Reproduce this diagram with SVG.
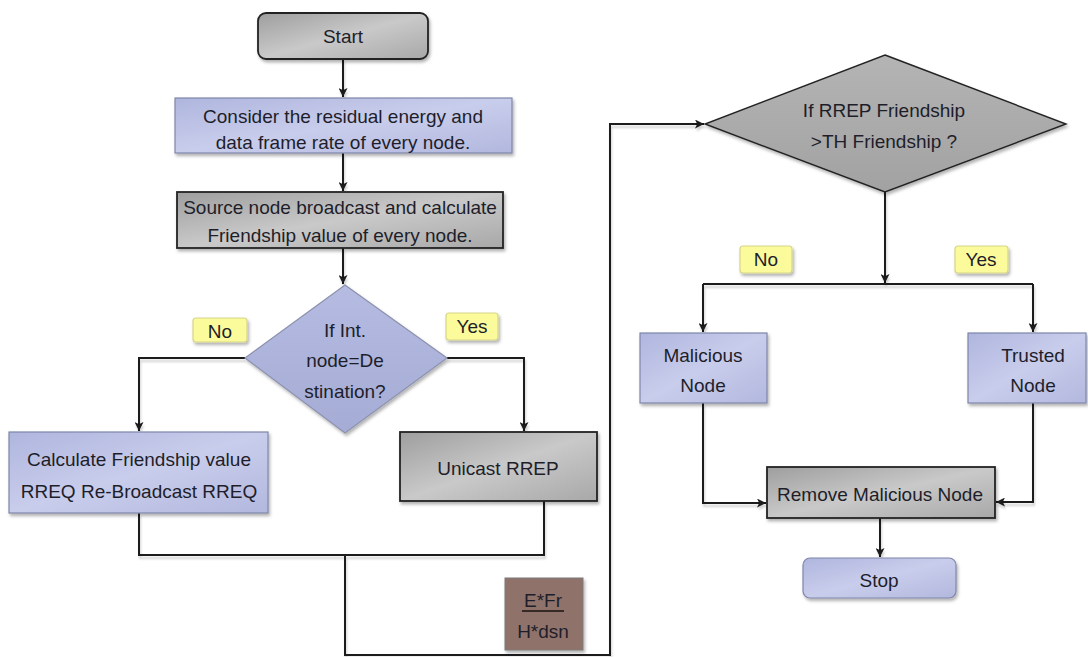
<svg xmlns="http://www.w3.org/2000/svg" width="1088" height="657" viewBox="0 0 1088 657">
<defs>
<linearGradient id="gGray" x1="0" y1="0" x2="1" y2="1">
<stop offset="0" stop-color="#9e9e9e"/><stop offset="0.5" stop-color="#c9c9c9"/><stop offset="1" stop-color="#a8a8a8"/>
</linearGradient>
<linearGradient id="gBlue" x1="0" y1="0" x2="1" y2="1">
<stop offset="0" stop-color="#afb6de"/><stop offset="0.5" stop-color="#c9cdec"/><stop offset="1" stop-color="#b2b8de"/>
</linearGradient>
<linearGradient id="gDia1" x1="0" y1="0" x2="0" y2="1">
<stop offset="0" stop-color="#b5bbe1"/><stop offset="1" stop-color="#a5acd5"/>
</linearGradient>
<linearGradient id="gDia2" x1="0" y1="0" x2="0" y2="1">
<stop offset="0" stop-color="#b4b4b4"/><stop offset="1" stop-color="#a2a2a2"/>
</linearGradient>
<filter id="sh" x="-10%" y="-10%" width="130%" height="140%">
<feDropShadow dx="1.5" dy="2.5" stdDeviation="1.5" flood-color="#000" flood-opacity="0.3"/>
</filter>
<filter id="lsh" filterUnits="userSpaceOnUse" x="0" y="0" width="1088" height="657">
<feDropShadow dx="1" dy="3" stdDeviation="1.2" flood-color="#000" flood-opacity="0.18"/>
</filter>
<marker id="arr" viewBox="0 0 10 10" refX="10" refY="5" markerWidth="9" markerHeight="9" markerUnits="userSpaceOnUse" orient="auto">
<path d="M0,0 L10,5 L0,10 L2.5,5 z" fill="#1a1a1a"/>
</marker>
<style>
text{font-family:"Liberation Sans",Arial,sans-serif;font-size:19px;fill:#1e1e2a;text-anchor:middle}
.gray{fill:url(#gGray);stroke:#222;stroke-width:1.8;filter:url(#sh)}
.blue{fill:url(#gBlue);stroke:#7f86a8;stroke-width:1.2;filter:url(#sh)}
.lbl{fill:#fbfb9c;stroke:#d6d68a;stroke-width:1.2;filter:url(#sh)}
.con{fill:none;stroke:#1a1a1a;stroke-width:2}
</style>
</defs>
<rect width="1088" height="657" fill="#ffffff"/>

<g id="connectors" filter="url(#lsh)">
<path class="con" d="M343 59 V97" marker-end="url(#arr)"/>
<path class="con" d="M343 153 V191" marker-end="url(#arr)"/>
<path class="con" d="M343 248 V284" marker-end="url(#arr)"/>
<path class="con" d="M245 358 H139 V431" marker-end="url(#arr)"/>
<path class="con" d="M447 358 H524 V431" marker-end="url(#arr)"/>
<path class="con" d="M139 513 V555 H544 V501"/>
<path class="con" d="M345 555 V655 H610 V124 H704" marker-end="url(#arr)"/>
<path class="con" d="M885 192 V283" marker-end="url(#arr)"/>
<path class="con" d="M703 284 H1033"/>
<path class="con" d="M703 284 V332" marker-end="url(#arr)"/>
<path class="con" d="M1033 284 V332" marker-end="url(#arr)"/>
<path class="con" d="M703 403 V503 H766" marker-end="url(#arr)"/>
<path class="con" d="M1033 403 V502 H996" marker-end="url(#arr)"/>
<path class="con" d="M880 518 V557" marker-end="url(#arr)"/>
</g>

<g id="start">
<rect class="gray" x="258" y="13" width="170" height="46" rx="8" stroke-width="1.5"/>
<text x="343" y="43">Start</text>
</g>

<g id="consider">
<rect class="blue" x="175" y="98" width="337" height="55"/>
<text x="343" y="123">Consider the residual energy and</text>
<text x="343" y="149">data frame rate of every node.</text>
</g>

<g id="source">
<rect class="gray" x="177" y="192" width="326" height="56"/>
<text x="340" y="214">Source node broadcast and calculate</text>
<text x="340" y="242">Friendship value of every node.</text>
</g>

<g id="decision1">
<polygon points="345,285 447,358 345,433 245,358" fill="url(#gDia1)" stroke="#8c92ae" stroke-width="1.2" filter="url(#sh)"/>
<text x="345" y="337">If Int.</text>
<text x="345" y="367">node=De</text>
<text x="345" y="398">stination?</text>
</g>

<g id="label-no1">
<rect class="lbl" x="193" y="318" width="54" height="24" rx="3"/>
<text x="220" y="338">No</text>
</g>

<g id="label-yes1">
<rect class="lbl" x="446" y="313" width="52" height="27" rx="3"/>
<text x="472" y="333">Yes</text>
</g>

<g id="calculate">
<rect class="blue" x="9" y="432" width="259" height="81"/>
<text x="139" y="466">Calculate Friendship value</text>
<text x="139" y="498">RREQ Re-Broadcast RREQ</text>
</g>

<g id="unicast">
<rect class="gray" x="400" y="432" width="197" height="69"/>
<text x="498" y="475">Unicast RREP</text>
</g>

<g id="formula">
<rect x="505" y="578" width="78" height="72" fill="#8f736b" stroke="#7a7a7a" stroke-width="1" filter="url(#sh)"/>
<text x="543" y="607" fill="#1a1010">E*Fr</text>
<line x1="522" y1="611" x2="564" y2="611" stroke="#1a1010" stroke-width="1.3"/>
<text x="543" y="638" fill="#1a1010">H*dsn</text>
</g>

<g id="decision2">
<polygon points="885,55 1066,124 885,192 705,124" fill="url(#gDia2)" stroke="#222" stroke-width="1.4" filter="url(#sh)"/>
<text x="884" y="117">If RREP Friendship</text>
<text x="884" y="148">&gt;TH Friendship ?</text>
</g>

<g id="label-no2">
<rect class="lbl" x="740" y="246" width="52" height="27" rx="3"/>
<text x="766" y="266">No</text>
</g>

<g id="label-yes2">
<rect class="lbl" x="955" y="246" width="53" height="27" rx="3"/>
<text x="981" y="266">Yes</text>
</g>

<g id="malicious">
<rect class="blue" x="640" y="333" width="127" height="70"/>
<text x="703" y="362">Malicious</text>
<text x="703" y="392">Node</text>
</g>

<g id="trusted">
<rect class="blue" x="968" y="333" width="118" height="70"/>
<text x="1033" y="362">Trusted</text>
<text x="1033" y="392">Node</text>
</g>

<g id="remove">
<rect class="gray" x="767" y="467" width="228" height="51"/>
<text x="880" y="501">Remove  Malicious Node</text>
</g>

<g id="stop">
<rect class="blue" x="803" y="558" width="153" height="40" rx="7"/>
<text x="879" y="587">Stop</text>
</g>
</svg>
